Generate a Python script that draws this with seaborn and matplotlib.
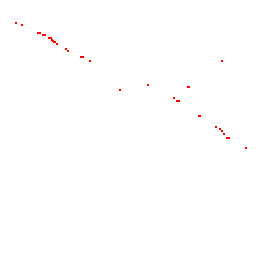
import matplotlib
matplotlib.use("Agg")
import matplotlib.pyplot as plt
import seaborn as sns
import pandas as pd

# posições (x para a direita, y para baixo)
x_vals = [16.0, 22.3, 38.0, 39.7, 42.8, 44.5, 49.0, 50.5, 51.7, 52.6, 53.5, 54.8, 57.3,
          66.0, 68.0, 81.3, 83.0, 90.0, 120.3, 148.3, 187.5, 189.3, 174.3,
          177.0, 178.8, 198.5, 200.3, 215.7, 219.7, 222.3, 224.3, 226.7, 228.5,
          246.0, 222.0]
y_vals = [22.7, 24.7, 33.3, 33.3, 35.3, 35.3, 37.7, 37.7, 39.7, 40.7, 41.7, 42.0, 44.0,
          48.7, 50.7, 57.3, 57.3, 61.3, 89.7, 85.3, 87.3, 87.3, 98.3,
          100.7, 100.7, 115.7, 115.7, 126.7, 129.0, 131.3, 133.7, 137.7, 137.7,
          148.3, 61.3]

df = pd.DataFrame({'x': x_vals, 'y': y_vals})

fig = plt.figure(figsize=(2.56, 2.56), dpi=100)
ax = fig.add_axes([0, 0, 1, 1])
sns.scatterplot(data=df, x='x', y='y', marker='s', s=4.5, color='red', linewidth=0, ax=ax)
ax.set_xlim(0, 256)
ax.set_ylim(256, 0)
ax.axis('off')
plt.savefig("out.png", dpi=100)
